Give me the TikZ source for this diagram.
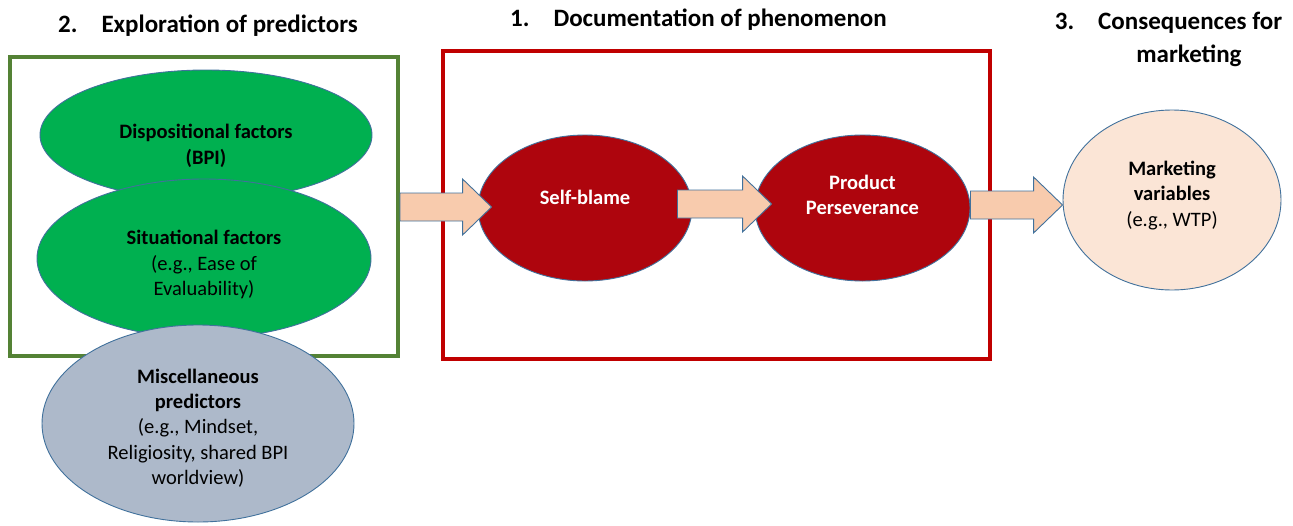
\documentclass[tikz,border=0pt]{standalone}
\usepackage{fontspec}
\setmainfont{Carlito}
\usetikzlibrary{shapes.geometric,calc}
\definecolor{grnbox}{RGB}{84,130,53}
\definecolor{redbox}{RGB}{192,0,0}
\definecolor{grnfill}{RGB}{0,176,80}
\definecolor{redfill}{RGB}{174,5,13}
\definecolor{grayfill}{RGB}{173,185,202}
\definecolor{peachfill}{RGB}{251,229,214}
\definecolor{arrfill}{RGB}{248,203,173}
\definecolor{edgeblue}{RGB}{65,113,156}
\tikzset{
  frame/.style={draw, line width=4pt, inner sep=0pt},
  oval/.style={ellipse, draw=edgeblue, line width=0.9pt, inner sep=0pt, align=center,
     font=\fontsize{20.5}{25.4}\selectfont},
  ttl/.style={font=\fontsize{25}{33}\selectfont\bfseries, align=center, inner sep=0pt},
  blockarr/.style={fill=arrfill, draw=edgeblue, line width=0.9pt, line join=miter}
}
\newcommand{\blockarrow}[2]{%
  \draw[blockarr] ($(#1)+(0,-14)$) -- ($(#2)+(-29,-14)$) -- ($(#2)+(-29,-28)$) -- (#2)
    -- ($(#2)+(-29,28)$) -- ($(#2)+(-29,14)$) -- ($(#1)+(0,14)$) -- cycle;}
\newcommand{\offtext}[2]{\raisebox{#1}[0pt][0pt]{\begin{tabular}{@{}c@{}}#2\end{tabular}}}
\begin{document}
\begin{tikzpicture}[x=1pt,y=-1pt]
\useasboundingbox (0,0) rectangle (1293,525);
% titles
\node[ttl] (t2) at (208,26) {2.\hspace{24pt}Exploration of predictors};
\node[ttl] (t1) at (698.5,20) {1.\hspace{24pt}Documentation of phenomenon};
\node[ttl] (t3) at (1168.5,39) {3.\hspace{24pt}Consequences for\\\hspace{41pt}marketing};
% frames
\node[frame, draw=grnbox, minimum width=388pt, minimum height=299pt] (gbox) at (204,206.5) {};
\node[frame, draw=redbox, minimum width=547pt, minimum height=308pt] (rbox) at (716.5,205) {};
% left ellipses
\node[oval, fill=grnfill, minimum width=332pt, minimum height=130pt] (disp) at (206,135)
  {\offtext{-16.5pt}{\textbf{Dispositional factors}\\\textbf{(BPI)}}};
\node[oval, fill=grnfill, minimum width=334pt, minimum height=159pt] (sit) at (204,258.5)
  {\offtext{-11.7pt}{\textbf{Situational factors}\\(e.g., Ease of\\Evaluability)}};
\node[oval, fill=grayfill, minimum width=312pt, minimum height=197pt] (misc) at (198,423.5)
  {\offtext{-10.5pt}{\textbf{Miscellaneous}\\\textbf{predictors}\\(e.g., Mindset,\\Religiosity, shared BPI\\worldview)}};
% middle ellipses
\node[oval, fill=redfill, text=white, minimum width=214pt, minimum height=146pt] (sb) at (585,208)
  {\offtext{3pt}{\textbf{Self-blame}}};
\node[oval, fill=redfill, text=white, minimum width=215pt, minimum height=146pt] (pp) at (862.5,208)
  {\offtext{6pt}{\textbf{Product}\\\textbf{Perseverance}}};
% right ellipse
\node[oval, fill=peachfill, minimum width=218pt, minimum height=180pt] (mv) at (1172,200)
  {\offtext{-1pt}{\textbf{Marketing}\\\textbf{variables}\\(e.g., WTP)}};
% arrows
\coordinate (a1s) at (gbox.east |- 0,207);
\coordinate (a1t) at ($(sb.west)+(14,-1)$);
\blockarrow{a1s}{a1t}
\coordinate (a2s) at ($(sb.east)+(-15,-4)$);
\coordinate (a2t) at ($(pp.west)+(17,-4)$);
\blockarrow{a2s}{a2t}
\coordinate (a3s) at ($(pp.east)+(0,-3)$);
\coordinate (a3t) at (mv.west |- 0,205);
\blockarrow{a3s}{a3t}
\end{tikzpicture}
\end{document}
